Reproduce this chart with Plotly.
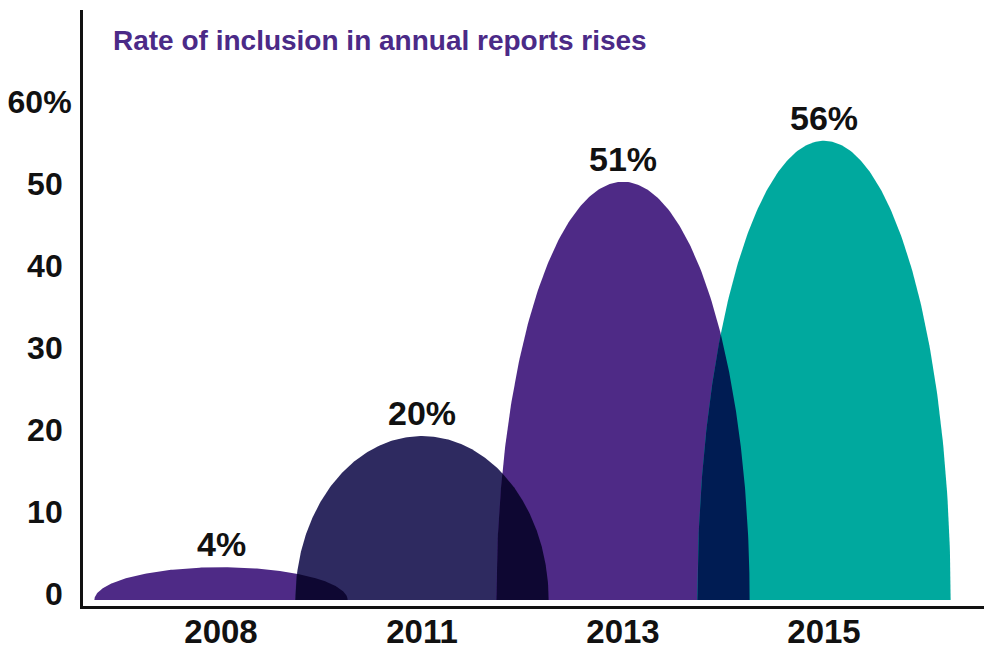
import numpy as np
import plotly.graph_objects as go

# ---- data ----
years = ["2008", "2011", "2013", "2015"]
values = [4, 20, 51, 56]
value_labels = ["4%", "20%", "51%", "56%"]
ytick_vals = [0, 10, 20, 30, 40, 50, 60]
ytick_text = ["0", "10", "20", "30", "40", "50", "60%"]
title_text = "Rate of inclusion in annual reports rises"

# ---- styles ----
colors = ["#4e2a86", "#2e2a60", "#4e2a86", "#00a99e"]
HALF_W = 0.63
FONT = "Liberation Sans"
PURPLE = "#4b2a87"


def hex2rgb(h):
    h = h.lstrip("#")
    return tuple(int(h[i:i + 2], 16) for i in (0, 2, 4))


def multiply(c1, c2):
    a, b = hex2rgb(c1), hex2rgb(c2)
    return "rgb(%d,%d,%d)" % tuple(round(x * y / 255) for x, y in zip(a, b))


def ell(x, c, v):
    u = np.clip((x - c) / HALF_W, -1, 1)
    return v * np.sqrt(1 - u ** 2)


fig = go.Figure()
centers = list(range(len(years)))

# half-ellipse shapes
for c, v, col in zip(centers, values, colors):
    t = np.linspace(0, np.pi, 241)
    xs = c + HALF_W * np.cos(t)
    ys = v * np.sin(t)
    fig.add_trace(go.Scatter(x=xs, y=ys, fill="toself", fillcolor=col,
                             mode="lines", line=dict(width=0), hoverinfo="skip",
                             showlegend=False))

# overlap regions (multiply blend)
for i in range(len(years) - 1):
    lo = centers[i + 1] - HALF_W
    hi = centers[i] + HALF_W
    if hi <= lo:
        continue
    xs = np.linspace(lo, hi, 200)
    ys = np.minimum(ell(xs, centers[i], values[i]), ell(xs, centers[i + 1], values[i + 1]))
    px = np.concatenate([xs, xs[::-1]])
    py = np.concatenate([ys, np.zeros_like(ys)])
    fig.add_trace(go.Scatter(x=px, y=py, fill="toself",
                             fillcolor=multiply(colors[i], colors[i + 1]),
                             mode="lines", line=dict(width=0), hoverinfo="skip",
                             showlegend=False))

# value labels
for c, v, lab in zip(centers, values, value_labels):
    fig.add_annotation(x=c, y=v, text=lab, showarrow=False, yanchor="middle",
                       yshift=23, font=dict(family=FONT, size=34, color="#111111", weight=700))

S = 8.2  # px per unit
y_lo = -6 / S
y_hi = 590 / S

fig.update_layout(
    width=984, height=649,
    margin=dict(l=83, r=0, t=10, b=43, autoexpand=False),
    paper_bgcolor="white", plot_bgcolor="white",
    title=dict(text=title_text, x=113 / 984, xanchor="left", xref="container",
               y=1 - 40 / 649, yanchor="middle", yref="container", automargin=False,
               font=dict(family=FONT, size=28, color=PURPLE, weight=700)),
    xaxis=dict(range=[-(221 - 83) / 201, (984 - 221) / 201], automargin=False,
               tickvals=centers, ticktext=years, showline=True, linecolor="#111111",
               linewidth=3, showgrid=False, zeroline=False, ticks="",
               ticklabelstandoff=-6,
               tickfont=dict(family=FONT, size=33, color="#111111", weight=700)),
    yaxis=dict(range=[y_lo, y_hi], tickvals=ytick_vals, automargin=False,
               ticktext=[t if t.endswith("%") else t + "\u00a0" for t in ytick_text],
               showline=True, linecolor="#111111", linewidth=3, showgrid=False,
               zeroline=False, ticks="", ticklabelshift=-6, ticklabelstandoff=2,
               tickfont=dict(family=FONT, size=32, color="#111111", weight=700)),
)

fig.write_html("out.html")
